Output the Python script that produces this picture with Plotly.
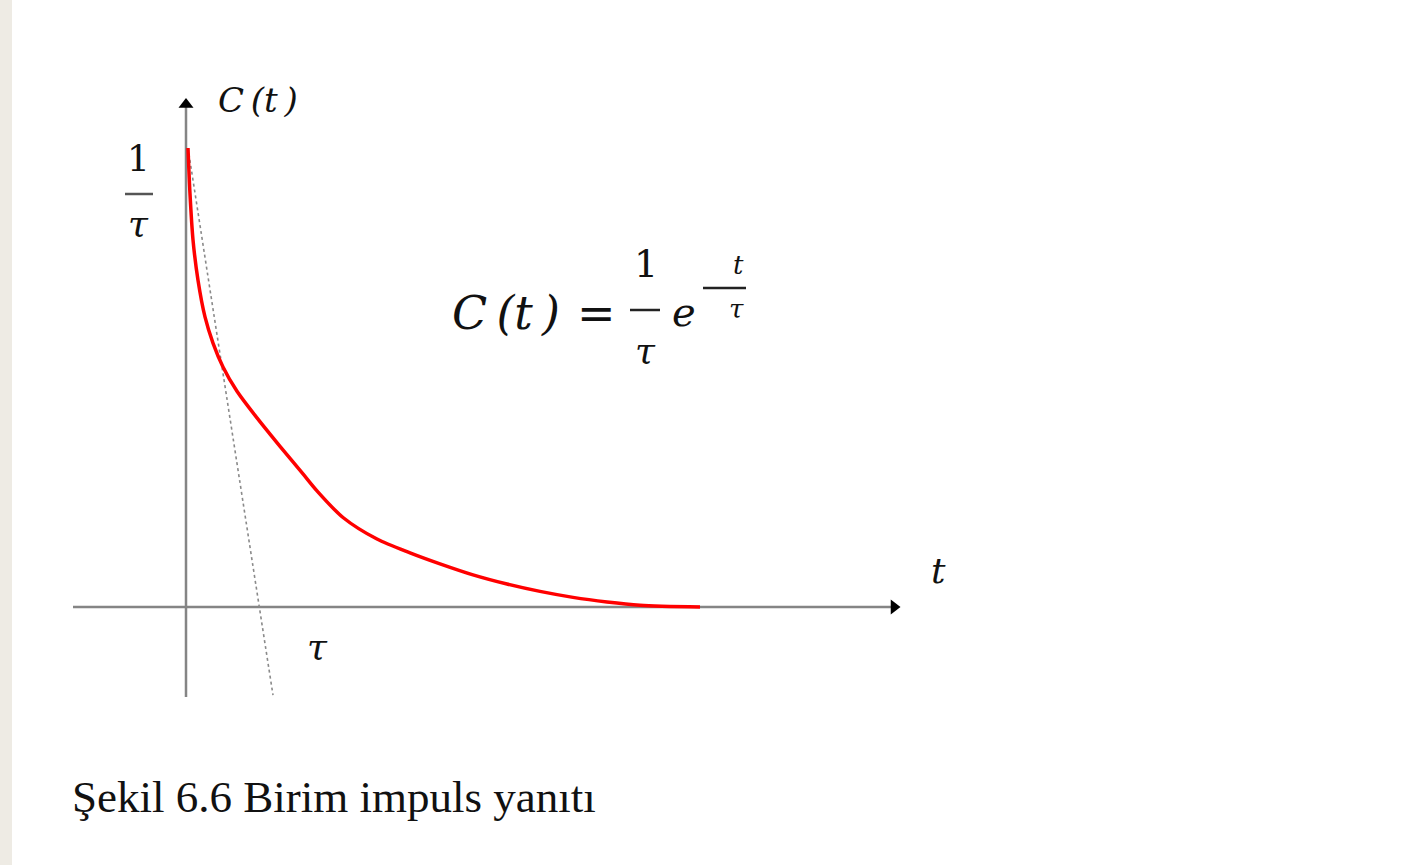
import plotly.graph_objects as go

# ---- data (t in units of the sketch, C normalised so that 1/tau = 1) ----
t_curve = [0.02, 0.04, 0.07, 0.12, 0.19, 0.27, 0.37, 0.51, 0.71, 0.94, 1.17, 1.31,
           1.57, 1.91, 2.24, 2.54, 2.87, 3.21, 3.54, 3.87, 4.21, 4.54, 5.14]
c_curve = [1.0, 0.90, 0.80, 0.712, 0.632, 0.575, 0.523, 0.470, 0.412, 0.350, 0.290, 0.253,
           0.195, 0.148, 0.118, 0.094, 0.070, 0.050, 0.034, 0.021, 0.011, 0.004, 0.0]

t_tangent = [0.02, 0.87]
c_tangent = [1.0, -0.192]

t_axis = [-1.13, 7.06]        # horizontal axis extent
c_axis = [-0.196, 1.09]       # vertical axis extent
arrow_t_tip = 7.08
arrow_c_tip = 1.095

caption = "Şekil 6.6 Birim impuls yanıtı"

W, H = 1414, 865
X_RANGE = [-1.86, 12.28]
Y_RANGE = [-258 / 459, 607 / 459]


def px(x):
    return x / W


def py(y):
    return 1 - y / H


fig = go.Figure()

AX = "#858585"
fig.add_trace(go.Scatter(x=t_axis, y=[0, 0], mode="lines",
                         line=dict(color=AX, width=2.5), hoverinfo="skip"))
fig.add_trace(go.Scatter(x=[0, 0], y=c_axis, mode="lines",
                         line=dict(color=AX, width=2.5), hoverinfo="skip"))
fig.add_trace(go.Scatter(x=[arrow_t_tip], y=[0], mode="markers",
                         marker=dict(symbol="triangle-right", size=13, color="black"),
                         hoverinfo="skip"))
fig.add_trace(go.Scatter(x=[0], y=[arrow_c_tip], mode="markers",
                         marker=dict(symbol="triangle-up", size=13, color="black"),
                         hoverinfo="skip"))
fig.add_trace(go.Scatter(x=t_tangent, y=c_tangent, mode="lines",
                         line=dict(color="#8a8a8a", width=1.6, dash="dot"),
                         hoverinfo="skip"))
fig.add_trace(go.Scatter(x=t_curve, y=c_curve, mode="lines",
                         line=dict(color="#ff0000", width=3.5, shape="spline", smoothing=0.8),
                         hoverinfo="skip"))

MATH = "DejaVu Serif"
TXT = "#111111"
ann = []


def label(x, y, text, size, italic=True, family=MATH, xanchor="center"):
    ann.append(dict(x=px(x), y=py(y), xref="paper", yref="paper", text=text,
                    showarrow=False, xanchor=xanchor, yanchor="middle",
                    font=dict(family=family, size=size, color=TXT,
                              style="italic" if italic else "normal")))


# axis labels
label(258, 100, "C\u2009(t\u2009)", 34)
label(138, 158, "1", 36, italic=False)
label(138, 224, "τ", 36)
label(317, 646, "τ", 36)
label(938, 570, "t", 36)

# formula
label(506, 313, "C\u2009(t\u2009)", 46)
label(596, 313, "=", 46, italic=False)
label(646, 264, "1", 38, italic=False)
label(645, 350, "τ", 36)
label(684, 312, "e", 40)
label(738, 265, "t", 26)
label(737, 309, "τ", 26)

# caption
label(70, 797, caption, 45, italic=False, family="Liberation Serif", xanchor="left")

shapes = [
    dict(type="rect", xref="paper", yref="paper", x0=0, x1=px(12), y0=0, y1=1,
         fillcolor="#EEEBE4", line=dict(width=0), layer="below"),
    dict(type="line", xref="paper", yref="paper", x0=px(125), x1=px(153),
         y0=py(194), y1=py(194), line=dict(color="#555555", width=2.5)),
    dict(type="line", xref="paper", yref="paper", x0=px(630), x1=px(660),
         y0=py(310), y1=py(310), line=dict(color="#222222", width=2.5)),
    dict(type="line", xref="paper", yref="paper", x0=px(703), x1=px(746),
         y0=py(288), y1=py(288), line=dict(color="#222222", width=2.5)),
]

fig.update_layout(
    width=W, height=H,
    margin=dict(l=0, r=0, t=0, b=0),
    paper_bgcolor="white", plot_bgcolor="white",
    showlegend=False,
    xaxis=dict(range=X_RANGE, visible=False, fixedrange=True),
    yaxis=dict(range=Y_RANGE, visible=False, fixedrange=True),
    annotations=ann, shapes=shapes,
)

fig.write_html(
    "out.html",
    config={"displayModeBar": False},
    post_script="document.body.style.margin='0';document.body.style.overflow='hidden';",
)
